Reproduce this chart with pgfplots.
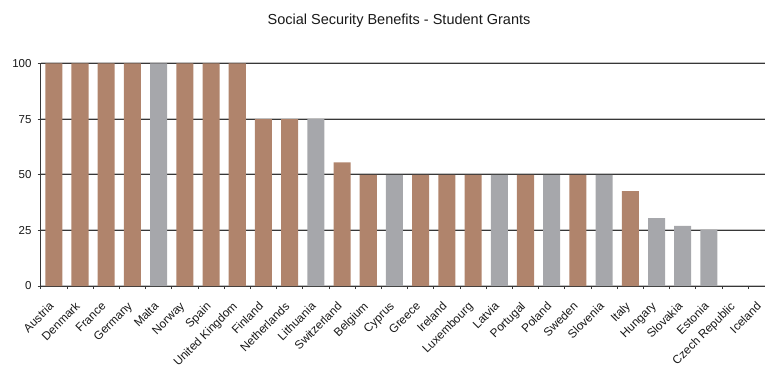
\documentclass[border=0pt]{standalone}
\usepackage{pgfplots}
\pgfplotsset{compat=1.18}
\usepackage{fontspec}
\setmainfont{Liberation Sans}
\definecolor{brownbar}{RGB}{176,132,108}
\definecolor{graybar}{RGB}{166,167,171}
\definecolor{gridc}{RGB}{55,55,55}
\begin{document}
\begin{tikzpicture}
\useasboundingbox (-40.7pt,-81pt) rectangle (724.3pt,286pt);
\begin{axis}[
  at={(0pt,0pt)}, anchor=south west,
  scale only axis,
  width=724.3pt, height=222.5pt,
  xmin=-0.5, xmax=27.14,
  ymin=0, ymax=100,
  axis x line*=bottom, axis y line*=left,
  axis line style={draw=gridc, line width=0.8pt},
  ytick={0,25,50,75,100},
  ymajorgrids,
  major grid style={draw=gridc, line width=0.8pt,
    preaction={draw=black!25, line width=0.8pt, transform canvas={yshift=1pt}}},
  xtick={0,...,27},
  minor xtick={-0.5,0.5,...,27.5},
  xticklabels={Austria,Denmark,France,Germany,Malta,Norway,Spain,United Kingdom,Finland,Netherlands,Lithuania,Switzerland,Belgium,Cyprus,Greece,Ireland,Luxembourg,Latvia,Portugal,Poland,Sweden,Slovenia,Italy,Hungary,Slovakia,Estonia,Czech Republic,Iceland},
  tick align=outside,
  major tick length=3pt, minor tick length=3pt,
  major x tick style={draw=none},
  tick style={draw=gridc, line width=0.7pt},
  /pgf/number format/assume math mode=true,
  yticklabel style={font=\fontsize{11.5}{13}\selectfont, color=black!90, inner sep=0pt, xshift=-6pt},
  xticklabel style={xshift=-5.5pt, yshift=-12pt, rotate=45, anchor=north east, inner sep=0pt, font=\fontsize{11.8}{13}\selectfont, color=black!90},
  ybar, bar width=0.65, bar shift=0pt,
  clip=false,
]
\addplot[fill=brownbar, draw=none] coordinates {
(0,100) (1,100) (2,100) (3,100) (5,100) (6,100) (7,100) (8,75) (9,75)
(11,55.6) (12,50) (14,50) (15,50) (16,50) (18,50) (20,50) (22,42.6)};
\addplot[fill=graybar, draw=none] coordinates {
(4,100) (10,75) (13,50) (17,50) (19,50) (21,50) (23,30.5) (24,27) (25,25.3)};
\end{axis}
\node[font=\fontsize{14.5}{16}\selectfont, color=black!90] at (358.3pt,265pt) {Social Security Benefits - Student Grants};
\end{tikzpicture}
\end{document}
